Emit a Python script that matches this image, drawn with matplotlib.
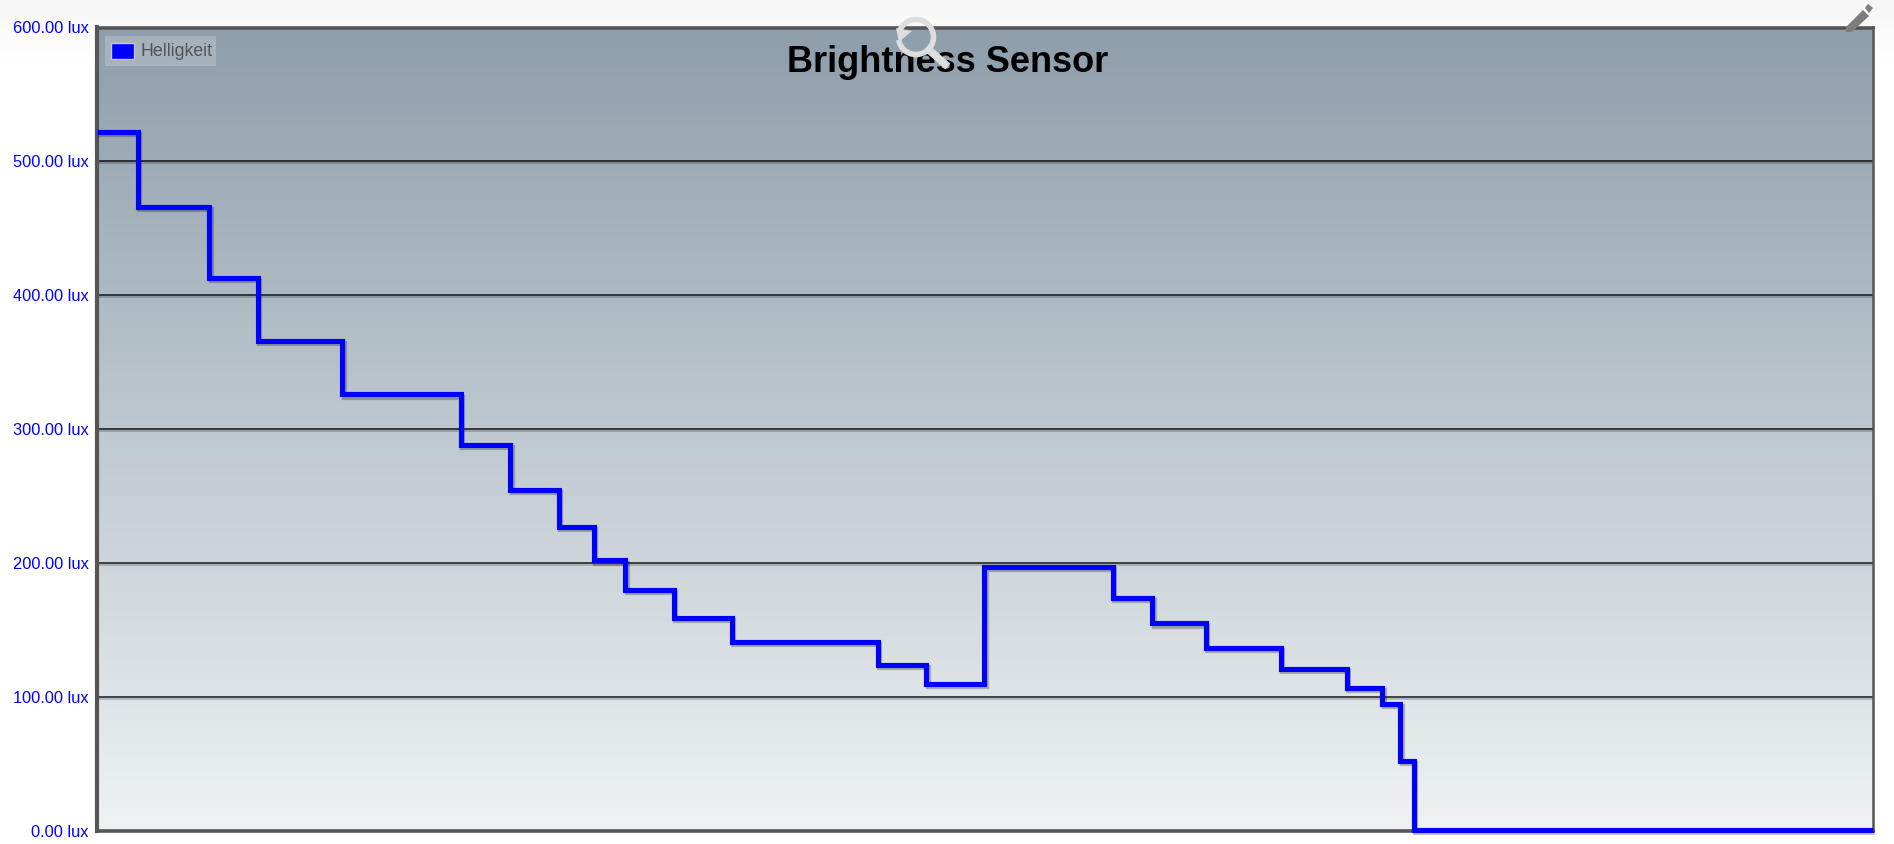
# -*- coding: utf-8 -*-

import numpy as np
import matplotlib
matplotlib.use('Agg')
import matplotlib.pyplot as plt
from matplotlib import patheffects
from matplotlib.colors import LinearSegmentedColormap
from matplotlib.lines import Line2D
from matplotlib.patches import Polygon, Rectangle, Arc

plt.rcParams['font.family'] = ['Liberation Sans', 'DejaVu Sans']

# sample position is read off the picture, there is no time axis to read
step_x = [81, 115, 174, 214, 284, 382, 423, 463, 492, 518, 558, 606, 727, 767,
          815, 921, 954, 998, 1060, 1115, 1144, 1159, 1170, 1550]
lux = [522, 466, 413, 366, 326, 288, 255, 227, 202, 180, 159, 141, 124, 110,
       197, 174, 155, 137, 121, 107, 95, 52, 0.5, 0.5]
y_ticks = [0, 100, 200, 300, 400, 500, 600]
y_labels = ['%.2f lux' % v for v in y_ticks]
title = 'Brightness Sensor'
series_name = 'Helligkeit'

W, H = 1894, 844
fig = plt.figure(figsize=(W / 100, H / 100), dpi=100, facecolor='white')


def fig_x(px):
    return px / W


def fig_y(px):
    return 1 - px / H


# page background fades in from light grey at the top
bg = fig.add_axes([0, 0, 1, 1], zorder=-1)
bg.axis('off')
page_cmap = LinearSegmentedColormap.from_list('page', ['#f6f6f6', '#ffffff'])
bg.imshow(np.linspace(0, 1, 60).reshape(-1, 1), cmap=page_cmap, aspect='auto',
          extent=[0, W, H - 60, H], origin='upper')
bg.set_xlim(0, W)
bg.set_ylim(0, H)

ax = fig.add_axes([fig_x(97), fig_y(831), fig_x(1873 - 97), (831 - 27.5) / H])
cmap = LinearSegmentedColormap.from_list('plot', ['#8e9eab', '#eef2f3'])
ax.imshow(np.linspace(0, 1, 256).reshape(-1, 1), cmap=cmap, aspect='auto',
          extent=[step_x[0], step_x[-1], 0, 600], origin='upper', zorder=0)

for v in y_ticks[1:-1]:
    ax.axhline(v, color='#000000', lw=1.1, zorder=1, alpha=0.9,
               path_effects=[patheffects.SimpleLineShadow(offset=(0, -1.2), alpha=0.25, shadow_color='#000000'),
                             patheffects.Normal()])

ax.step(step_x, lux, where='post', color='#0000ff', lw=3.7, zorder=3,
        solid_joinstyle='miter', solid_capstyle='butt', clip_on=False,
        path_effects=[patheffects.SimpleLineShadow(offset=(1, -1.5), alpha=0.25, shadow_color='#000000'),
                      patheffects.Normal()])

ax.set_xlim(step_x[0], step_x[-1])
ax.set_ylim(0, 600)
ax.set_xticks([])
ax.set_yticks(y_ticks)
ax.set_yticklabels(y_labels, color='#0000ff', fontsize=11.8)
ax.tick_params(axis='y', length=0, pad=6)
for name, width in [('left', 3.0), ('top', 2.6), ('right', 1.8), ('bottom', 2.6)]:
    ax.spines[name].set_color('#555555')
    ax.spines[name].set_linewidth(width)

fig.text(fig_x(948), fig_y(62), title, ha='center', va='center', fontsize=26,
         fontweight='bold', color='#000000', zorder=5)

# legend box, drawn by hand to get the small swatch with its pale border
fig.add_artist(Rectangle((fig_x(105), fig_y(66)), 111 / W, 30 / H, transform=fig.transFigure,
                         facecolor='#ffffff', edgecolor='none', alpha=0.2))
fig.add_artist(Rectangle((fig_x(111), fig_y(59)), 23 / W, 16 / H, transform=fig.transFigure,
                         facecolor='#0000ff', edgecolor='#c4c8cc', lw=1.0))
fig.text(fig_x(140), fig_y(51), series_name, ha='left', va='center', fontsize=12.8,
         color='#545454')

# reset zoom icon over the title
icon = '#dddddd'
fig.add_artist(Arc((fig_x(916), fig_y(37)), 2 * 17.5 / W, 2 * 17.5 / H, theta1=200, theta2=500,
                   transform=fig.transFigure, color=icon, lw=4.0, zorder=6))
fig.add_artist(Line2D([fig_x(929), fig_x(945)], [fig_y(50), fig_y(64)], color=icon, lw=5.5,
                      transform=fig.transFigure, zorder=6))
fig.add_artist(Polygon([(fig_x(896), fig_y(28)), (fig_x(899), fig_y(42)), (fig_x(912), fig_y(31))],
                       transform=fig.transFigure, facecolor=icon, edgecolor='none', zorder=6))

# pencil icon in the top right corner
pencil = '#7d7d7d'
fig.add_artist(Polygon([(fig_x(1846), fig_y(27)), (fig_x(1863), fig_y(10)), (fig_x(1869), fig_y(16)),
                        (fig_x(1852), fig_y(32)), (fig_x(1846), fig_y(32))],
                       transform=fig.transFigure, facecolor=pencil, edgecolor='none', zorder=6))
fig.add_artist(Polygon([(fig_x(1865), fig_y(8)), (fig_x(1868), fig_y(4)), (fig_x(1873), fig_y(8)),
                        (fig_x(1869), fig_y(13))],
                       transform=fig.transFigure, facecolor=pencil, edgecolor='none', zorder=6))

fig.savefig('out.png', dpi=100)
